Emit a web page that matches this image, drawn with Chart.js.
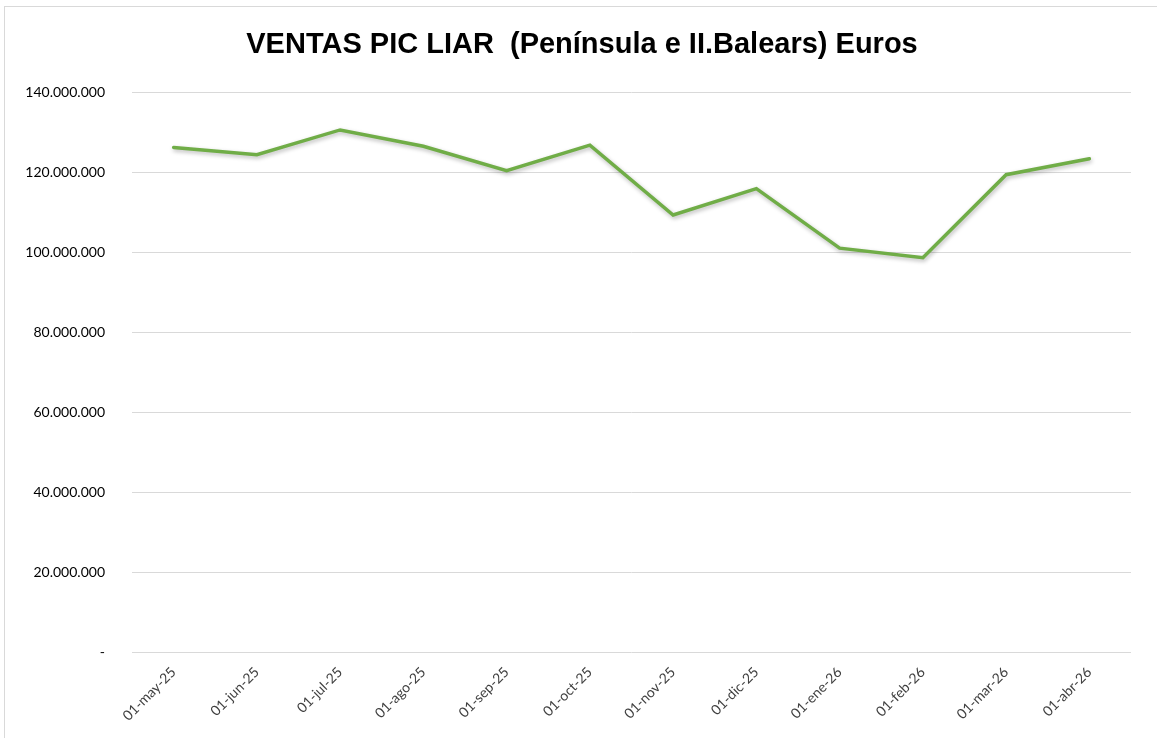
<!DOCTYPE html>
<html>
<head>
<meta charset="utf-8">
<script src="https://cdn.jsdelivr.net/npm/chart.js@4/dist/chart.umd.min.js"></script>
<style>
  html, body { margin: 0; padding: 0; background: #fff; }
  #frame { position: absolute; left: 4px; top: 6px; width: 1160px; height: 740px; border: 1px solid #d9d9d9; }
  #wrap { position: absolute; left: 0; top: 0; width: 1157px; height: 738px; }
</style>
</head>
<body>
<div id="frame"></div>
<div id="wrap"><canvas id="ventas"></canvas></div>
<script>
var months = ['01-may-25', '01-jun-25', '01-jul-25', '01-ago-25', '01-sep-25', '01-oct-25',
    '01-nov-25', '01-dic-25', '01-ene-26', '01-feb-26', '01-mar-26', '01-abr-26'];
var ventas = [126300000, 124500000, 130700000, 126600000, 120500000, 126900000,
    109400000, 116000000, 101100000, 98700000, 119500000, 123500000];
var yTicks = [0, 20000000, 40000000, 60000000, 80000000, 100000000, 120000000, 140000000];
var titleText = 'VENTAS PIC LIAR  (Península e II.Balears) Euros';

function fmtEuros(v) {
    if (v === 0) return '-';
    return String(Math.round(v)).replace(/\B(?=(\d{3})+(?!\d))/g, '.');
}

// soft shadow under the line, like the Excel original
var lineShadow = {
    id: 'lineShadow',
    beforeDatasetDraw: function (chart) {
        var ctx = chart.ctx;
        ctx.save();
        ctx.shadowColor = 'rgba(0,0,0,0.28)';
        ctx.shadowBlur = 4;
        ctx.shadowOffsetX = 1;
        ctx.shadowOffsetY = 2;
    },
    afterDatasetDraw: function (chart) {
        chart.ctx.restore();
    }
};

document.addEventListener('DOMContentLoaded', function () {
    new Chart(document.getElementById('ventas'), {
        type: 'line',
        data: {
            labels: months,
            datasets: [{
                data: ventas,
                borderColor: '#70ad47',
                backgroundColor: '#70ad47',
                borderWidth: 3.5,
                borderCapStyle: 'round',
                borderJoinStyle: 'miter',
                pointRadius: 0,
                tension: 0,
                yAxisID: 'y'
            }]
        },
        options: {
            responsive: true,
            maintainAspectRatio: false,
            animation: false,
            layout: { padding: { left: 7, right: 0, top: 0, bottom: 0 } },
            plugins: {
                legend: { display: false },
                tooltip: { enabled: false },
                title: {
                    display: true,
                    text: titleText,
                    color: '#000',
                    font: { family: 'Liberation Sans', size: 29, weight: 'bold' },
                    padding: { top: 28, bottom: 30 }
                }
            },
            scales: {
                x: {
                    offset: true,
                    grid: { display: false },
                    border: { display: false },
                    ticks: {
                        minRotation: 45,
                        maxRotation: 45,
                        autoSkip: false,
                        padding: 4,
                        labelOffset: 0,
                        color: '#404040',
                        font: { family: 'Lato', size: 14 }
                    },
                    afterFit: function (axis) { axis.height = 86; }
                },
                y: {
                    min: 0,
                    max: 140000000,
                    afterBuildTicks: function (axis) {
                        axis.ticks = yTicks.map(function (v) { return { value: v }; });
                    },
                    grid: { color: '#d9d9d9', lineWidth: 1, drawTicks: false },
                    border: { display: false },
                    ticks: {
                        padding: 27,
                        color: '#000',
                        font: { family: 'Lato', size: 14 },
                        callback: function (v) { return fmtEuros(v); }
                    },
                    afterFit: function (axis) { axis.width = 125; }
                },
                // empty right margin so the title stays centred on the whole frame
                yRight: {
                    type: 'linear',
                    position: 'right',
                    grid: { display: false },
                    border: { display: false },
                    ticks: { display: false },
                    afterFit: function (axis) { axis.width = 26; }
                }
            }
        },
        plugins: [lineShadow]
    });
});
</script>
</body>
</html>
